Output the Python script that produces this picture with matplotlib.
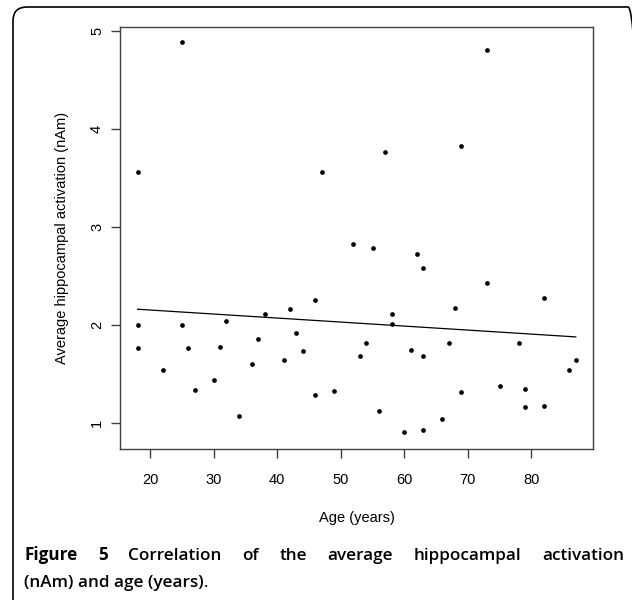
import matplotlib
matplotlib.use('Agg')
import matplotlib.pyplot as plt
import numpy as np
from matplotlib.patches import FancyBboxPatch
from matplotlib.transforms import IdentityTransform

# data
age = [18, 18, 18, 22, 25, 25, 26, 27, 30, 31, 32, 34, 36, 37, 38, 41, 42, 43,
       44, 46, 46, 47, 49, 52, 53, 54, 55, 56, 57, 58, 58, 60, 61, 62, 63, 63,
       63, 66, 67, 68, 69, 69, 73, 73, 75, 78, 79, 79, 82, 82, 86, 87]
activation = [3.56, 2.00, 1.76, 1.54, 4.89, 2.00, 1.76, 1.33, 1.43, 1.77, 2.04,
              1.07, 1.60, 1.85, 2.11, 1.64, 2.16, 1.91, 1.73, 2.25, 1.28, 3.56,
              1.32, 2.82, 1.68, 1.81, 2.78, 1.12, 3.76, 2.11, 2.01, 0.90, 1.74,
              2.72, 2.58, 1.68, 0.92, 1.04, 1.81, 2.17, 3.82, 1.31, 4.80, 2.43,
              1.37, 1.81, 1.34, 1.16, 2.27, 1.17, 1.54, 1.64]
xticks = [20, 30, 40, 50, 60, 70, 80]
yticks = [1, 2, 3, 4, 5]

W, H = 632, 600
fig = plt.figure(figsize=(W / 100, H / 100), dpi=100)

# rounded frame round the whole figure
frame = FancyBboxPatch((13, -40), 629, 633, boxstyle="round,pad=0,rounding_size=14",
                       transform=IdentityTransform(), fill=False, ec='black', lw=1.2)
fig.add_artist(frame)

ax = fig.add_axes([120 / W, 1 - 449 / H, (593.3 - 120) / W, (449 - 27) / H])
x = np.array(age)
y = np.array(activation)
ax.plot(x, y, 'o', color='black', markersize=3.4, markeredgewidth=0)

# least squares line over the data range
b, a = np.polyfit(x, y, 1)
xs = np.array([x.min(), x.max()])
ax.plot(xs, a + b * xs, color='black', lw=0.9)

ax.set_xlim(15.24, 89.76)
ax.set_ylim(0.73, 5.04)
ax.set_xticks(xticks)
ax.set_yticks(yticks)
ax.set_xticklabels([str(t) for t in xticks], family='Liberation Sans', fontsize=10.5)
ax.set_yticklabels([str(t) for t in yticks], family='Liberation Sans', fontsize=10.5,
                   rotation=90, va='center')
for s in ax.spines.values():
    s.set_color('#404040')
    s.set_linewidth(1.0)
ax.tick_params(axis='both', direction='out', length=6.5, width=1.0, color='#404040')
ax.tick_params(axis='x', pad=10.5)
ax.tick_params(axis='y', pad=5)

fig.text(356.5 / W, 1 - 518 / H, 'Age (years)', family='Liberation Sans',
         fontsize=10.5, ha='center', va='center')
fig.text(62 / W, 1 - 238 / H, 'Average hippocampal activation (nAm)',
         family='Liberation Sans', fontsize=10.5, ha='center', va='center', rotation=90)

# caption, first line justified between x0 and x1
cap_font = 'Open Sans'
cap_size = 12.3
x0, x1 = 24, 624
line1 = [('Figure', 'bold'), ('5', 'bold'), ('Correlation', 'semibold'),
         ('of', 'semibold'), ('the', 'semibold'), ('average', 'semibold'),
         ('hippocampal', 'semibold'), ('activation', 'semibold')]
r = fig.canvas.get_renderer()
texts = []
for w, wt in line1:
    t = fig.text(0, 1 - 560 / H, w, family=cap_font, fontsize=cap_size,
                 weight=wt, ha='left', va='baseline')
    texts.append(t)
widths = [t.get_window_extent(r).width for t in texts]
gap = (x1 - x0 - sum(widths)) / (len(texts) - 1)
pos = x0
for t, wd in zip(texts, widths):
    t.set_x(pos / W)
    pos += wd + gap

t2 = fig.text(x0 / W, 1 - 587 / H, '(nAm) and age (years)', family=cap_font,
              fontsize=cap_size, weight='semibold', ha='left', va='baseline')
wd2 = t2.get_window_extent(r).width
fig.text((x0 + wd2) / W, 1 - 587 / H, '.', family=cap_font, fontsize=cap_size,
         weight='normal', ha='left', va='baseline')

fig.savefig('out.png', dpi=100)
